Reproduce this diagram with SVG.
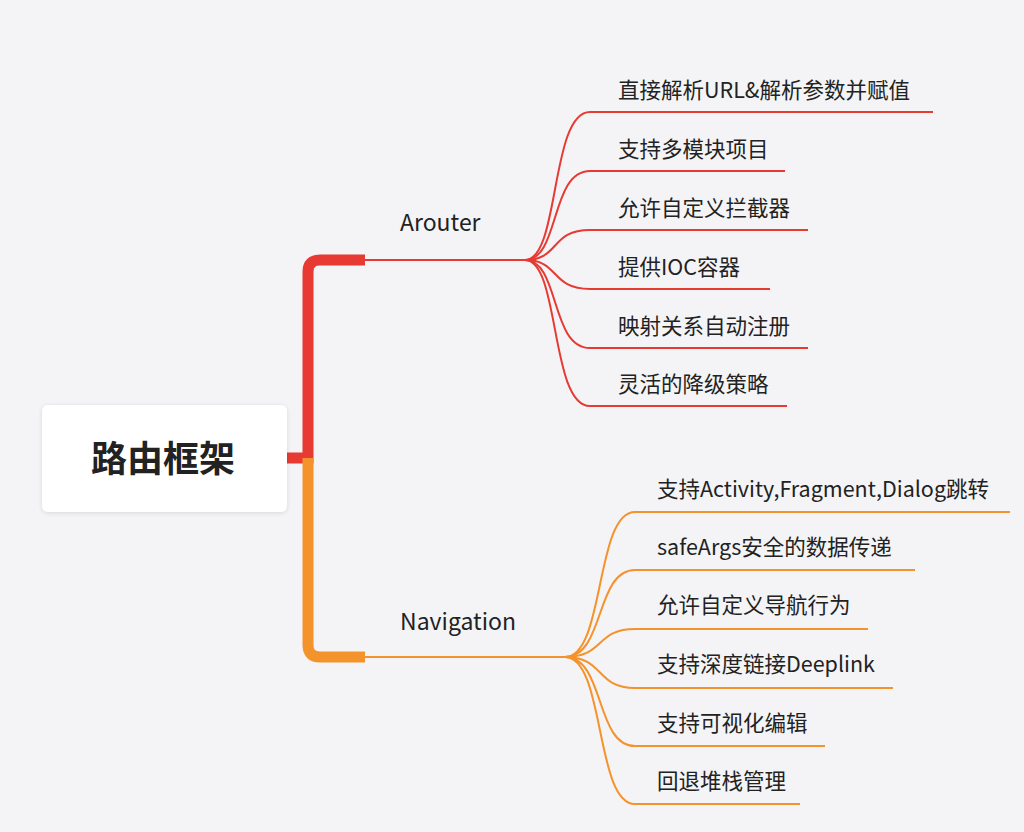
<svg xmlns="http://www.w3.org/2000/svg" width="1024" height="832" viewBox="0 0 1024 832">
<defs>
<style>
text{font-family:"Noto Sans CJK SC","Noto Sans",sans-serif;fill:#222;font-size:21.5px}
.r{fill:none;stroke:#e63a33;stroke-width:2}
.o{fill:none;stroke:#f4922c;stroke-width:2}
</style>
<filter id="sh" x="-10%" y="-10%" width="120%" height="130%"><feDropShadow dx="0" dy="1" stdDeviation="2" flood-color="#000" flood-opacity="0.12"/></filter>
</defs>
<rect width="1024" height="832" fill="#f4f4f6"/>
<g id="connectors">
<path d="M287,458 H308 V272 Q308,260 320,260 H365" fill="none" stroke="#e63a33" stroke-width="11"/>
<path d="M308,458 V645 Q308,657 320,657 H365" fill="none" stroke="#f4922c" stroke-width="11"/>
<path class="r" d="M365,260 H525"/>
<path class="r" d="M525,260 C560,260 550,112 590,112 H933"/>
<path class="r" d="M525,260 C560,260 550,171 590,171 H785"/>
<path class="r" d="M525,260 C560,260 550,230 590,230 H808"/>
<path class="r" d="M525,260 C560,260 550,289 590,289 H770"/>
<path class="r" d="M525,260 C560,260 550,348 590,348 H808"/>
<path class="r" d="M525,260 C560,260 550,406 590,406 H787"/>
<path class="o" d="M365,657 H565"/>
<path class="o" d="M565,657 C605,657 595,512 635,512 H1010"/>
<path class="o" d="M565,657 C605,657 595,570 635,570 H915"/>
<path class="o" d="M565,657 C605,657 595,629 635,629 H868"/>
<path class="o" d="M565,657 C605,657 595,688 635,688 H893"/>
<path class="o" d="M565,657 C605,657 595,746 635,746 H825"/>
<path class="o" d="M565,657 C605,657 595,804 635,804 H800"/>
</g>
<g id="root"><rect x="42" y="405" width="245" height="107" rx="6" fill="#fff" filter="url(#sh)"/><text x="163" y="472" text-anchor="middle" style="font-size:36px;font-weight:bold">路由框架</text></g>
<g id="arouter"><text x="400" y="231" style="font-size:23px">Arouter</text></g>
<g id="a1"><text x="618" y="98">直接解析URL&amp;解析参数并赋值</text></g>
<g id="a2"><text x="618" y="157">支持多模块项目</text></g>
<g id="a3"><text x="618" y="216">允许自定义拦截器</text></g>
<g id="a4"><text x="618" y="275">提供IOC容器</text></g>
<g id="a5"><text x="618" y="334">映射关系自动注册</text></g>
<g id="a6"><text x="618" y="392">灵活的降级策略</text></g>
<g id="navigation"><text x="400" y="630" style="font-size:23px">Navigation</text></g>
<g id="n1"><text x="657" y="497">支持Activity,Fragment,Dialog跳转</text></g>
<g id="n2"><text x="657" y="555">safeArgs安全的数据传递</text></g>
<g id="n3"><text x="657" y="613">允许自定义导航行为</text></g>
<g id="n4"><text x="657" y="672">支持深度链接Deeplink</text></g>
<g id="n5"><text x="657" y="731">支持可视化编辑</text></g>
<g id="n6"><text x="657" y="789">回退堆栈管理</text></g>
</svg>
